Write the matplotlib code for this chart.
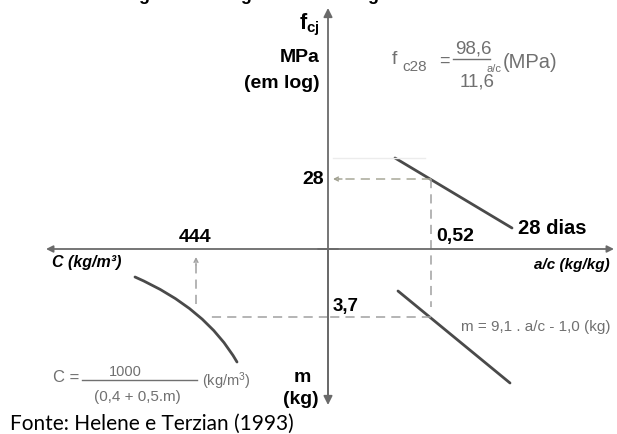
import matplotlib
matplotlib.use("Agg")
import matplotlib.pyplot as plt
from matplotlib.path import Path
from matplotlib.patches import PathPatch

plt.rcParams['mathtext.fontset'] = 'custom'
plt.rcParams['mathtext.rm'] = 'Liberation Sans'
plt.rcParams['mathtext.bf'] = 'Liberation Sans:bold'
plt.rcParams['mathtext.it'] = 'Liberation Sans:italic'

# ---- schematic diagram data (offsets from the axes crossing; x right, y up) ----
fc28_line_x = [67, 184]          # f_c28 vs a/c (28 dias)
fc28_line_y = [91, 21]
m_line_x = [70, 182]             # m vs a/c
m_line_y = [-42, -134]
# C vs m curve: start, bezier control, end
c_curve_x = [-193, -122, -91]
c_curve_y = [-28, -59, -113]

fc_read_y = 70        # level of f_cj = 28
ac_read_x = 103       # position of a/c = 0,52
m_read_y = -68        # level of m = 3,7
c_read_x = -132       # position of C = 444

fc_label = "28"
ac_label = "0,52"
m_label = "3,7"
c_label = "444"

AX = '#6a6a6a'
LINE = '#4a4a4a'
DASH = '#a0a0a0'
FORM = '#707070'
LF = 'Liberation Sans'

fig = plt.figure(figsize=(6.17, 4.34), dpi=100)
ax = fig.add_axes([0, 0, 1, 1])
ax.set_xlim(-328, 289)
ax.set_ylim(-185, 249)
ax.axis('off')

# ---- axes with arrows ----
ax.annotate('', xy=(0, 241), xytext=(0, -150),
            arrowprops=dict(arrowstyle='-|>', color=AX, lw=1.3, mutation_scale=13, shrinkA=0, shrinkB=0))
ax.annotate('', xy=(0, -156), xytext=(0, 0),
            arrowprops=dict(arrowstyle='-|>', color=AX, lw=1.3, mutation_scale=13, shrinkA=0, shrinkB=0))
ax.annotate('', xy=(286, 0), xytext=(-10, 0),
            arrowprops=dict(arrowstyle='-|>', color=AX, lw=1.3, mutation_scale=10, shrinkA=0, shrinkB=0))
ax.annotate('', xy=(-282, 0), xytext=(10, 0),
            arrowprops=dict(arrowstyle='-|>', color=AX, lw=1.3, mutation_scale=10, shrinkA=0, shrinkB=0))

# ---- curves ----
ax.plot(fc28_line_x, fc28_line_y, color=LINE, lw=2.0, solid_capstyle='round')
ax.plot(m_line_x, m_line_y, color=LINE, lw=2.0, solid_capstyle='round')
c_path = Path(list(zip(c_curve_x, c_curve_y)), [Path.MOVETO, Path.CURVE3, Path.CURVE3])
ax.add_patch(PathPatch(c_path, facecolor='none', edgecolor=LINE, lw=2.0, capstyle='round'))

# faint guide at top of 28-day line
ax.plot([5, fc28_line_x[0] + 30], [fc28_line_y[0], fc28_line_y[0]], color='#ececec', lw=1.0)

# ---- dashed reading lines ----
dash = dict(color=DASH, lw=1.1, dashes=(6, 4))
ax.plot([ac_read_x, 10], [fc_read_y, fc_read_y], color='#a8a898', lw=1.1, dashes=(6, 4))
ax.annotate('', xy=(5, fc_read_y), xytext=(14, fc_read_y),
            arrowprops=dict(arrowstyle='->', color='#a0a090', lw=1.0, mutation_scale=7, shrinkA=0, shrinkB=0))
ax.plot([ac_read_x, ac_read_x], [fc_read_y, m_read_y + 10], **dash)
ax.plot([ac_read_x, 0], [m_read_y, m_read_y], **dash)
ax.plot([0, c_read_x + 12], [m_read_y, m_read_y], **dash)
ax.plot([c_read_x, c_read_x], [m_read_y + 13, -12], **dash)
ax.annotate('', xy=(c_read_x, -8), xytext=(c_read_x, -16),
            arrowprops=dict(arrowstyle='->', color=DASH, lw=1.0, mutation_scale=7, shrinkA=0, shrinkB=0))

# ---- title (cut off at top) ----
ax.text(-10, 249, "Figura 3 – Diagrama de dosagem do concreto", ha='center', va='baseline',
        fontsize=13, fontweight='bold', family=LF, color='black')

# ---- bold labels ----
bold = dict(fontweight='bold', family=LF, color='black')
ax.text(-8, 224, r'$\mathbf{f_{cj}}$', ha='right', va='center', fontsize=15.5, family=LF)
ax.text(-8, 192, "MPa", ha='right', va='center', fontsize=14, **bold)
ax.text(-8, 166, "(em log)", ha='right', va='center', fontsize=14, **bold)
ax.text(-4, fc_read_y, fc_label, ha='right', va='center', fontsize=14, **bold)
ax.text(ac_read_x + 5, 12, ac_label, ha='left', va='center', fontsize=14, **bold)
ax.text(190, 20, "28 dias", ha='left', va='center', fontsize=14.5, **bold)
ax.text(c_read_x - 1, 12, c_label, ha='center', va='center', fontsize=14, **bold)
ax.text(5, -57, m_label, ha='left', va='center', fontsize=13.5, **bold)
ax.text(-26, -128, "m", ha='center', va='center', fontsize=14, **bold)
ax.text(-27, -151, "(kg)", ha='center', va='center', fontsize=14, **bold)

ax.text(-276, -14, "C (kg/m³)", ha='left', va='center', fontsize=11.5,
        fontweight='bold', style='italic', family=LF)
ax.text(282, -16, "a/c (kg/kg)", ha='right', va='center', fontsize=11,
        fontweight='bold', style='italic', family=LF)

# ---- f_c28 formula ----
form = dict(color=FORM, family=LF)
ax.text(64, 190, "f", ha='left', va='center', fontsize=14, **form)
ax.text(74, 182, "c28", ha='left', va='center', fontsize=11, **form)
ax.text(111, 188, "=", ha='left', va='center', fontsize=13, **form)
ax.plot([125, 162], [190, 190], color=FORM, lw=1.0)
ax.text(145, 200, "98,6", ha='center', va='center', fontsize=13.5, **form)
ax.text(149, 167, "11,6", ha='center', va='center', fontsize=13.5, **form)
ax.text(166, 180, "a/c", ha='center', va='center', fontsize=8, **form)
ax.text(175, 187, "(MPa)", ha='left', va='center', fontsize=14.5, **form)

# ---- m formula ----
ax.text(133, -78, "m = 9,1 . a/c - 1,0 (kg)", ha='left', va='center', fontsize=11, **form)

# ---- C formula ----
ax.text(-275, -129, "C =", ha='left', va='center', fontsize=12, **form)
ax.plot([-246, -131], [-131, -131], color=FORM, lw=1.0)
ax.text(-203, -123, "1000", ha='center', va='center', fontsize=10.5, **form)
ax.text(-191, -148, "(0,4 + 0,5.m)", ha='center', va='center', fontsize=11, **form)
ax.text(-126, -132, r"(kg/m$^3$)", ha='left', va='center', fontsize=10.5, **form)

# ---- source ----
ax.text(-318, -175, "Fonte: Helene e Terzian (1993)", ha='left', va='center',
        fontsize=15, family='Lato', color='black')

fig.savefig("out.png", dpi=100)
